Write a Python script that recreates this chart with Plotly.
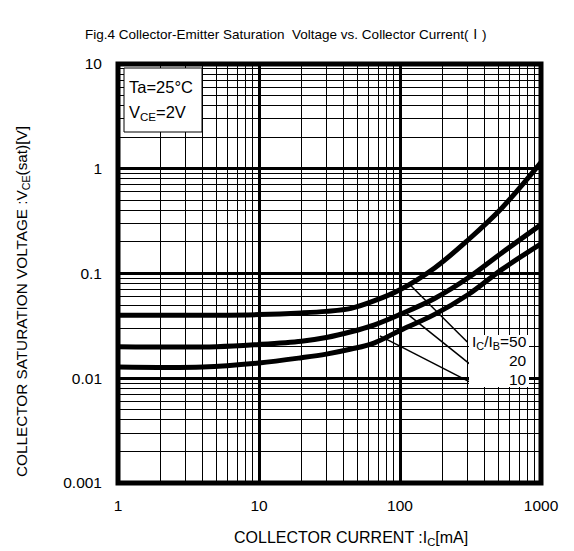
import plotly.graph_objects as go

# Collector current [mA] and saturation voltage [V]
ic_50 = [1, 5, 10, 20, 30, 45, 66, 100, 176, 305, 526, 1000]
vce_50 = [0.040, 0.040, 0.0405, 0.042, 0.0435, 0.0465, 0.055, 0.070, 0.113, 0.21, 0.42, 1.15]

ic_20 = [1, 5, 10, 20, 30, 45, 66, 100, 176, 305, 526, 1000]
vce_20 = [0.020, 0.020, 0.021, 0.0226, 0.0245, 0.0278, 0.0324, 0.0407, 0.0578, 0.091, 0.157, 0.293]

ic_10 = [1, 4, 10, 20, 30, 45, 66, 100, 176, 305, 526, 1000]
vce_10 = [0.0128, 0.0128, 0.0140, 0.0157, 0.0170, 0.0190, 0.0218, 0.0286, 0.0407, 0.063, 0.109, 0.192]

# leader lines (start on curve, end at label): (I0, V0, I1, V1)
leaders = [
    (117.5, 0.078, 300, 0.0222),
    (108, 0.043, 328, 0.0130),
    (72, 0.0254, 335, 0.0088),
]
ratio_labels = ["I<sub>C</sub>/I<sub>B</sub>=50", "20", "10"]

x_tickvals = [1, 10, 100, 1000]
x_ticktext = ["1", "10", "100", "1000"]
y_tickvals = [10, 1, 0.1, 0.01, 0.001]
y_ticktext = ["10", "1", "0.1", "0.01", "0.001"]

OFF = 8  # page body margin
W, H = 574 - OFF, 551 - OFF
ML, MT = 118 - OFF, 64 - OFF
MR, MB = 33, 68
PW, PH = W - ML - MR, H - MT - MB


def px(x):
    return (x - OFF - ML) / PW


def py(y):
    return (H - MB - (y - OFF)) / PH


FONT = "Liberation Sans, Arial, sans-serif"

fig = go.Figure()
for xs, ys in [(ic_50, vce_50), (ic_20, vce_20), (ic_10, vce_10)]:
    fig.add_trace(go.Scatter(x=xs, y=ys, mode="lines",
                             line=dict(color="black", width=5, shape="spline", smoothing=1.0),
                             showlegend=False, hoverinfo="skip"))

shapes = []
for (x0, y0, x1, y1) in leaders:
    shapes.append(dict(type="line", xref="x", yref="y", x0=x0, y0=y0, x1=x1, y1=y1,
                       line=dict(color="black", width=1.5), layer="above"))
# white background behind ratio labels
shapes.append(dict(type="rect", xref="paper", yref="paper",
                   x0=px(469), x1=px(529), y0=py(387), y1=py(335),
                   fillcolor="white", line=dict(width=0), layer="above"))
# condition box
shapes.append(dict(type="rect", xref="paper", yref="paper",
                   x0=px(124), x1=px(202), y0=py(132), y1=py(68),
                   fillcolor="white", line=dict(color="black", width=1), layer="above"))
# thick frame
shapes.append(dict(type="rect", xref="paper", yref="paper", x0=0, x1=1, y0=0, y1=1,
                   line=dict(color="black", width=5), layer="above"))

annotations = [
    dict(text="Fig.4 Collector-Emitter Saturation \u00a0Voltage vs. Collector Current("
              "<span style=\"font-family:'Noto Sans CJK JP'\">Ⅰ</span>)",
         xref="paper", yref="paper", x=px(285), y=py(33), showarrow=False,
         font=dict(size=13.5, family=FONT, color="black"), xanchor="center", yanchor="middle"),
    dict(text="COLLECTOR CURRENT :I<sub>C</sub>[mA]", xref="paper", yref="paper",
         x=px(351), y=py(538), showarrow=False, font=dict(size=16, family=FONT, color="black"),
         xanchor="center", yanchor="middle"),
    dict(text="COLLECTOR SATURATION VOLTAGE :V<sub>CE</sub>(sat)[V]", xref="paper", yref="paper",
         x=px(22), y=py(302), showarrow=False, textangle=-90,
         font=dict(size=15.3, family=FONT, color="black"), xanchor="center", yanchor="middle"),
    dict(text="Ta=25°C", xref="paper", yref="paper", x=px(127), y=py(87), showarrow=False,
         font=dict(size=16.5, family=FONT, color="black"), xanchor="left", yanchor="middle"),
    dict(text="V<sub>CE</sub>=2V", xref="paper", yref="paper", x=px(127), y=py(113), showarrow=False,
         font=dict(size=16.5, family=FONT, color="black"), xanchor="left", yanchor="middle"),
]
for lbl, yc in zip(ratio_labels, [342.5, 360, 379]):
    annotations.append(dict(text=lbl, xref="paper", yref="paper", x=px(529), y=py(yc),
                            showarrow=False, align="right",
                            font=dict(size=15.5, family=FONT, color="black"),
                            xanchor="right", yanchor="middle"))

axis_common = dict(type="log", showline=False, zeroline=False, ticks="",
                   gridcolor="black", gridwidth=3,
                   tickfont=dict(size=15.5, family=FONT, color="black"),
                   minor=dict(dtick="D1", showgrid=True, gridcolor="black", gridwidth=1.2, ticks=""))

fig.update_layout(
    width=W, height=H,
    margin=dict(l=ML, r=MR, t=MT, b=MB),
    paper_bgcolor="white", plot_bgcolor="white",
    shapes=shapes, annotations=annotations,
    xaxis=dict(range=[0, 3], tickvals=x_tickvals, ticktext=x_ticktext,
               ticklabelstandoff=11, **axis_common),
    yaxis=dict(range=[-3, 1], tickvals=y_tickvals, ticktext=y_ticktext,
               ticklabelstandoff=15, **axis_common),
    showlegend=False,
)

fig.write_html("out.html")
